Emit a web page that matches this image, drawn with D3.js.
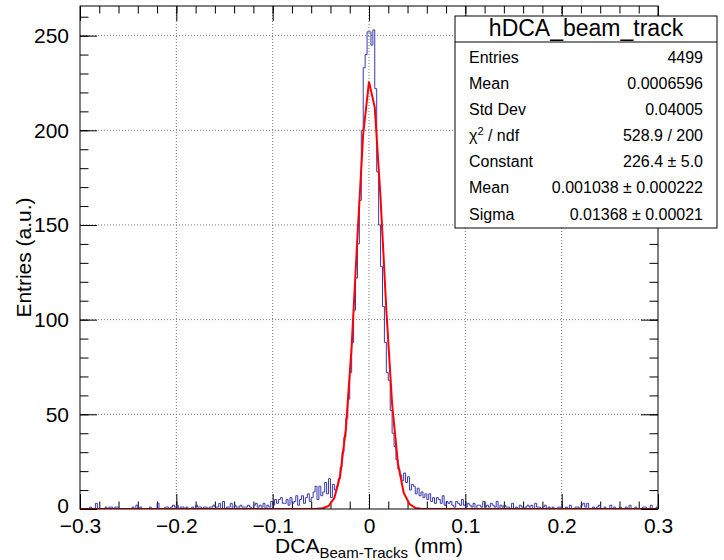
<!DOCTYPE html>
<html>
<head>
<meta charset="utf-8">
<script src="https://cdn.jsdelivr.net/npm/d3@7"></script>
<style>
  body { margin: 0; background: #fff; }
  svg { display: block; font-family: 'Liberation Sans', Arial, Helvetica, sans-serif; }
</style>
</head>
<body>
<div id="chart"></div>
<script>
// histogram: 300 bins of 0.002 from -0.3 to 0.3
const BIN_LO = -0.3;
const BIN_W = 0.002;
const counts = [
  0, 0, 0, 0, 0, 1, 0, 0, 3, 0, 0, 0, 0, 1, 0, 1, 1, 0, 1, 1,
  0, 0, 0, 0, 0, 0, 0, 1, 0, 2, 0, 1, 0, 0, 0, 0, 1, 0, 0, 0,
  3, 0, 0, 0, 1, 1, 0, 1, 2, 1, 2, 0, 1, 1, 0, 1, 0, 0, 1, 0,
  2, 1, 1, 0, 1, 1, 0, 1, 1, 2, 1, 1, 3, 0, 4, 0, 1, 1, 3, 0,
  2, 1, 1, 2, 1, 1, 1, 2, 1, 0, 2, 3, 1, 2, 1, 3, 0, 2, 1, 4,
  2, 5, 3, 5, 6, 3, 3, 5, 2, 6, 3, 4, 7, 2, 5, 7, 3, 6, 8, 4,
  6, 9, 12, 5, 12, 7, 9, 14, 8, 16, 6, 13, 10, 12, 16, 22, 30, 38, 48, 58,
  72, 88, 105, 122, 140, 163, 200, 233, 240, 252, 252, 245, 253, 222, 178, 150, 128, 107, 88, 72,
  68, 52, 40, 33, 26, 21, 18, 15, 19, 14, 17, 10, 13, 12, 8, 11, 7, 9, 6, 8,
  5, 8, 4, 6, 3, 6, 5, 3, 7, 2, 4, 3, 4, 2, 1, 4, 3, 2, 5, 2,
  1, 3, 2, 1, 3, 0, 2, 2, 1, 4, 1, 2, 1, 3, 2, 1, 4, 0, 2, 1,
  2, 1, 1, 0, 3, 0, 1, 0, 2, 1, 0, 1, 2, 1, 2, 0, 3, 1, 1, 0,
  1, 2, 0, 1, 0, 1, 0, 0, 1, 1, 0, 0, 1, 0, 2, 0, 0, 1, 1, 0,
  2, 3, 1, 3, 0, 0, 1, 0, 1, 2, 0, 0, 1, 0, 0, 2, 0, 1, 0, 0,
  1, 0, 0, 1, 0, 2, 0, 0, 1, 0, 0, 0, 1, 1, 0, 0, 2, 0, 0, 1
];

// gaussian fit curve as drawn (sampled points)
const fitX = [-0.3, -0.054, -0.048, -0.042, -0.036, -0.030, -0.024, -0.018, -0.012, -0.006, 0,
  0.006, 0.012, 0.018, 0.024, 0.030, 0.036, 0.042, 0.048, 0.054, 0.3];
const fitY = [0, 0.07, 0.37, 1.6, 5.8, 17.3, 42.4, 86.0, 143.8, 198.3, 225.7,
  212.0, 164.2, 105.0, 55.4, 24.1, 8.6, 2.6, 0.6, 0.1, 0];

const xMajor = [-0.3, -0.2, -0.1, 0, 0.1, 0.2, 0.3];
const xMinor = d3.range(-0.3, 0.3001, 0.02);
const yMajor = [0, 50, 100, 150, 200, 250];
const yMinor = d3.range(0, 261, 10);

const statsTitle = 'hDCA_beam_track';
const statsLabels = ['Entries', 'Mean', 'Std Dev', 'CHI2', 'Constant', 'Mean', 'Sigma'];
const statsValues = ['4499', '0.0006596', '0.04005', '528.9 / 200', '226.4 \u00b1 5.0',
  '0.001038 \u00b1 0.000222', '0.01368 \u00b1 0.00021'];

const WIDTH = 724;
const HEIGHT = 560;
const frame = { left: 80, right: 658, top: 6, bottom: 509 };
const LABEL_FONT = '21px';
const TITLE_FONT = '21px';

const svg = d3.select('#chart')
  .append('svg')
  .attr('width', WIDTH)
  .attr('height', HEIGHT);

const xScale = d3.scaleLinear().domain([-0.3, 0.3]).range([frame.left, frame.right]);
const yScale = d3.scaleLinear().domain([0, 265.65]).range([frame.bottom, frame.top]);

const fmtX = (d) => (Math.abs(d) < 1e-9 ? '0' : d3.format('.1f')(d).replace('-', '\u2212'));

// grid
svg.append('g')
  .selectAll('line')
  .data(xMajor.slice(1, -1))
  .join('line')
  .attr('x1', (d) => xScale(d)).attr('x2', (d) => xScale(d))
  .attr('y1', frame.top).attr('y2', frame.bottom)
  .attr('stroke', '#777').attr('stroke-dasharray', '1,2');
svg.append('g')
  .selectAll('line')
  .data(yMajor.slice(1))
  .join('line')
  .attr('x1', frame.left).attr('x2', frame.right)
  .attr('y1', (d) => yScale(d)).attr('y2', (d) => yScale(d))
  .attr('stroke', '#777').attr('stroke-dasharray', '1,2');

// axes, ticks pointing inside the frame
function addAxis(axis, transform, values, size, labels) {
  const g = svg.append('g')
    .attr('transform', transform)
    .call(axis.tickValues(values).tickSize(size).tickSizeOuter(0));
  g.select('.domain').remove();
  g.selectAll('.tick line').attr('stroke', '#000');
  g.selectAll('text')
    .style('font-size', LABEL_FONT)
    .style('font-family', "'Liberation Sans', Arial, sans-serif")
    .attr('fill', '#000');
  if (!labels) g.selectAll('text').remove();
  return g;
}

addAxis(d3.axisBottom(xScale).tickFormat(fmtX).tickPadding(9), `translate(0,${frame.bottom})`, xMajor, -15, true);
addAxis(d3.axisBottom(xScale), `translate(0,${frame.bottom})`, xMinor, -7.5, false);
addAxis(d3.axisTop(xScale), `translate(0,${frame.top})`, xMajor, -15, false);
addAxis(d3.axisTop(xScale), `translate(0,${frame.top})`, xMinor, -7.5, false);
const yAxis = addAxis(d3.axisLeft(yScale).tickFormat(d3.format('d')).tickPadding(11), `translate(${frame.left},0)`, yMajor, -17, true);
// lift the "0" label a little, as in the reference it sits just above the x labels
yAxis.selectAll('.tick text').filter((d) => d === 0).attr('dy', '0.15em');
addAxis(d3.axisLeft(yScale), `translate(${frame.left},0)`, yMinor, -8.5, false);
addAxis(d3.axisRight(yScale), `translate(${frame.right},0)`, yMajor, -17, false);
addAxis(d3.axisRight(yScale), `translate(${frame.right},0)`, yMinor, -8.5, false);

svg.append('clipPath')
  .attr('id', 'clip')
  .append('rect')
  .attr('x', frame.left).attr('y', frame.top)
  .attr('width', frame.right - frame.left).attr('height', frame.bottom - frame.top);

// histogram outline
const steps = counts.map((c, i) => ({ x: BIN_LO + i * BIN_W, y: c }));
steps.push({ x: BIN_LO + counts.length * BIN_W, y: counts[counts.length - 1] });
svg.append('path')
  .datum(steps)
  .attr('clip-path', 'url(#clip)')
  .attr('fill', 'none')
  .attr('stroke', '#3838b0')
  .attr('stroke-width', 1)
  .attr('d', d3.line().curve(d3.curveStepAfter).x((d) => xScale(d.x)).y((d) => yScale(d.y)));

// fit
svg.append('path')
  .datum(fitX)
  .attr('clip-path', 'url(#clip)')
  .attr('fill', 'none')
  .attr('stroke', '#ff0000')
  .attr('stroke-width', 2)
  .attr('d', d3.line().x((d) => xScale(d)).y((_d, i) => yScale(fitY[i])));

// frame
svg.append('rect')
  .attr('x', frame.left).attr('y', frame.top)
  .attr('width', frame.right - frame.left).attr('height', frame.bottom - frame.top)
  .attr('fill', 'none').attr('stroke', '#000');

// x title
const xTitle = svg.append('text')
  .attr('x', (frame.left + frame.right) / 2)
  .attr('y', 553)
  .attr('text-anchor', 'middle')
  .style('font-size', TITLE_FONT);
xTitle.append('tspan').text('DCA');
xTitle.append('tspan').attr('dy', 5).style('font-size', '15px').text('Beam-Tracks');
xTitle.append('tspan').attr('dy', -5).text(' (mm)');

// y title
svg.append('text')
  .attr('transform', `translate(31,${(frame.top + frame.bottom) / 2}) rotate(-90)`)
  .attr('text-anchor', 'middle')
  .style('font-size', TITLE_FONT)
  .text('Entries (a.u.)');

// stats box
const box = { x: 455, y: 16, w: 262, h: 212 };
const stats = svg.append('g');
stats.append('rect')
  .attr('x', box.x).attr('y', box.y).attr('width', box.w).attr('height', box.h)
  .attr('fill', '#fff').attr('stroke', '#000');
stats.append('line')
  .attr('x1', box.x).attr('x2', box.x + box.w)
  .attr('y1', 42).attr('y2', 42)
  .attr('stroke', '#000');
stats.append('text')
  .attr('x', box.x + box.w / 2).attr('y', 36)
  .attr('text-anchor', 'middle')
  .style('font-size', '23px')
  .text(statsTitle);

const rowY = d3.scaleLinear().domain([0, 6]).range([63, 219.5]);
statsLabels.forEach((label, i) => {
  const t = stats.append('text')
    .attr('x', 469).attr('y', rowY(i))
    .style('font-size', '16px');
  if (label === 'CHI2') {
    t.append('tspan').text('\u03c7');
    t.append('tspan').attr('dy', -6).style('font-size', '11px').text('2');
    t.append('tspan').attr('dy', 6).text(' / ndf');
  } else {
    t.text(label);
  }
  stats.append('text')
    .attr('x', 703).attr('y', rowY(i))
    .attr('text-anchor', 'end')
    .style('font-size', '16px')
    .text(statsValues[i]);
});
</script>
</body>
</html>
